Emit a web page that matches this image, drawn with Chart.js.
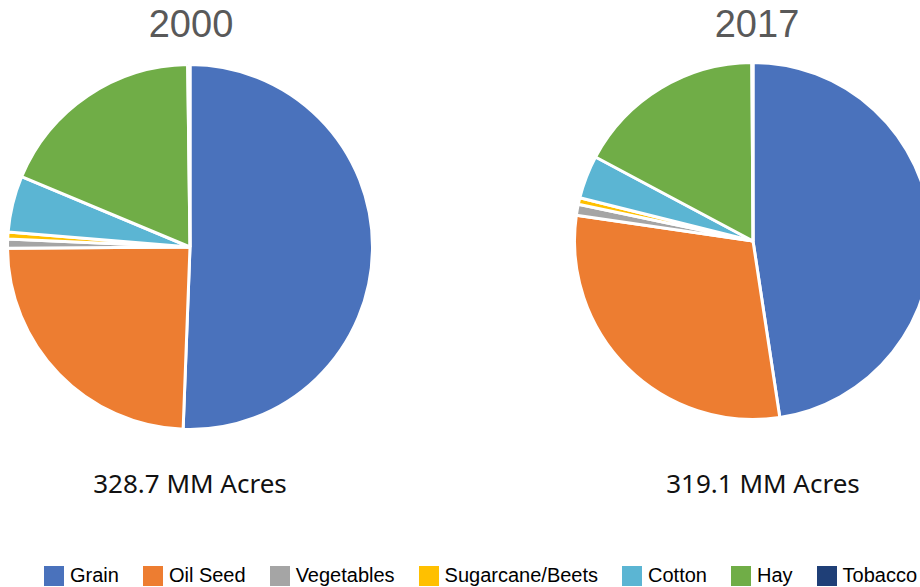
<!DOCTYPE html>
<html><head><meta charset="utf-8">
<script src="https://cdn.jsdelivr.net/npm/chart.js@4.4.0/dist/chart.umd.min.js"></script>
<style>
html,body{margin:0;padding:0;background:#fff;overflow:hidden;width:920px;height:587px;}
.wrap{position:absolute;}
.title{position:absolute;font-family:"Liberation Sans",Arial,sans-serif;font-size:38px;color:#595959;transform:translateX(-50%);white-space:nowrap;}
.sub{position:absolute;font-family:"Noto Sans",sans-serif;font-size:26px;color:#111;transform:translateX(-50%);white-space:nowrap;}
#legend{position:absolute;left:44px;top:564px;display:flex;gap:24px;font-family:"Liberation Sans",Arial,sans-serif;font-size:20px;color:#000;white-space:nowrap;}
#legend .it{display:flex;align-items:center;}
#legend .bx{width:20px;height:20px;margin-right:6px;}
</style></head>
<body>
<div class="title" style="left:191px;top:3px;">2000</div>
<div class="title" style="left:757px;top:3px;">2017</div>
<div class="wrap" style="left:6px;top:63px;width:368px;height:368px;"><canvas id="c1"></canvas></div>
<div class="wrap" style="left:573px;top:61px;width:360px;height:360px;"><canvas id="c2"></canvas></div>
<div class="sub" style="left:190px;top:465px;">328.7 MM Acres</div>
<div class="sub" style="left:763px;top:465px;">319.1 MM Acres</div>
<div id="legend"></div>
<script>
const categories = ["Grain","Oil Seed","Vegetables","Sugarcane/Beets","Cotton","Hay","Tobacco"];
const share2000 = [50.6, 24.3, 0.8, 0.6, 5.0, 18.5, 0.2];
const share2017 = [47.6, 29.7, 1.0, 0.6, 3.9, 17.1, 0.1];
const colors = ["#4A72BC","#ED7D31","#A5A5A5","#FFC000","#5BB5D3","#70AD47","#1F3F77"];

function makePie(id, data){
  new Chart(document.getElementById(id), {
    type: 'pie',
    data: { labels: categories, datasets: [{ data: data, backgroundColor: colors, borderColor: '#ffffff', borderWidth: 3 }] },
    options: {
      responsive: true, maintainAspectRatio: false, animation: false,
      layout: { padding: 0 },
      plugins: { legend: { display: false }, tooltip: { enabled: false } }
    }
  });
}
makePie('c1', share2000);
makePie('c2', share2017);

const lg = document.getElementById('legend');
categories.forEach((c,i)=>{
  const it = document.createElement('div'); it.className='it';
  const b = document.createElement('div'); b.className='bx'; b.style.background = colors[i];
  const t = document.createElement('span'); t.textContent = c;
  it.appendChild(b); it.appendChild(t); lg.appendChild(it);
});
</script>
</body></html>
